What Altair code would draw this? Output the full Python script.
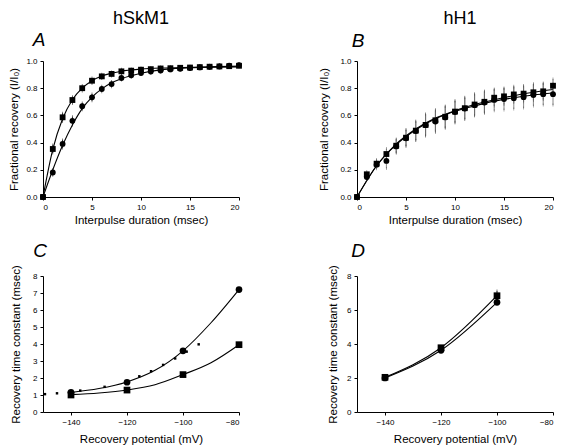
import altair as alt
import pandas as pd

# ---------------- data ----------------
# Panel A (hSkM1): fractional recovery vs interpulse duration
A_x = list(range(21))
A_sq = [0, 0.353, 0.586, 0.713, 0.80, 0.855, 0.887, 0.905, 0.924, 0.929, 0.936,
        0.94, 0.945, 0.947, 0.95, 0.952, 0.955, 0.958, 0.96, 0.962, 0.965]
A_ci = [0, 0.18, 0.39, 0.56, 0.667, 0.733, 0.794, 0.83, 0.875, 0.895, 0.912,
        0.922, 0.93, 0.938, 0.943, 0.948, 0.953, 0.957, 0.96, 0.965, 0.97]
A_sq_err = [0, 0.03, 0.03, 0.025, 0.02, 0.02, 0.015, 0.015, 0.015, 0.012, 0.012,
            0.01, 0.01, 0.01, 0.01, 0.01, 0.01, 0.01, 0.01, 0.01, 0.01]
A_ci_err = [0, 0.02, 0.03, 0.03, 0.025, 0.025, 0.02, 0.02, 0.015, 0.015, 0.012,
            0.012, 0.01, 0.01, 0.01, 0.01, 0.01, 0.01, 0.01, 0.01, 0.01]
A_fit_x = [0, 1, 2, 3, 4, 5, 6, 7, 8, 10, 12, 15, 20]
A_fit_sq = [0, 0.35, 0.575, 0.715, 0.80, 0.855, 0.89, 0.91, 0.925, 0.94, 0.948, 0.953, 0.957]
A_fit_ci = [0, 0.2, 0.38, 0.53, 0.65, 0.735, 0.795, 0.84, 0.87, 0.91, 0.935, 0.95, 0.962]

# Panel B (hH1)
B_x = list(range(21))
B_sq = [0, 0.167, 0.245, 0.316, 0.377, 0.436, 0.488, 0.53, 0.564, 0.59, 0.628,
        0.653, 0.68, 0.70, 0.73, 0.74, 0.754, 0.76, 0.77, 0.777, 0.818]
B_ci = [0, 0.147, 0.238, 0.265, 0.372, 0.432, 0.485, 0.528, 0.555, 0.585, 0.625,
        0.65, 0.675, 0.695, 0.714, 0.72, 0.727, 0.734, 0.75, 0.756, 0.756]
B_sq_err = [0, 0.02, 0.03, 0.04, 0.05, 0.06, 0.07, 0.08, 0.08, 0.08, 0.08,
            0.08, 0.08, 0.08, 0.06, 0.06, 0.06, 0.06, 0.06, 0.06, 0.05]
B_ci_err = [0, 0.02, 0.03, 0.055, 0.05, 0.06, 0.07, 0.08, 0.08, 0.08, 0.08,
            0.08, 0.08, 0.08, 0.08, 0.08, 0.08, 0.08, 0.08, 0.08, 0.08]
B_fit_x = [0, 2, 4, 6, 8, 10, 12, 14, 16, 18, 20]
B_fit_sq = [0, 0.23, 0.39, 0.50, 0.58, 0.635, 0.68, 0.715, 0.745, 0.77, 0.79]
B_fit_ci = [0, 0.23, 0.385, 0.495, 0.575, 0.63, 0.67, 0.705, 0.73, 0.75, 0.765]

# Panel C (hSkM1): recovery time constant vs potential
C_v = [-140, -120, -100, -80]
C_ci = [1.15, 1.75, 3.6, 7.2]
C_sq = [1.0, 1.29, 2.2, 3.96]
C_dot_v = [-149.3, -145, -140.7, -136.7, -128, -115.6, -111.4, -107.1, -102.8, -98.7, -94.4]
C_dot = [1.05, 1.1, 1.18, 1.26, 1.48, 2.1, 2.4, 2.77, 3.15, 3.55, 3.98]
C_fit_v = [-140, -130, -120, -110, -100, -90, -80]
C_fit_ci = [1.15, 1.38, 1.77, 2.45, 3.6, 5.25, 7.2]
C_fit_sq = [1.02, 1.12, 1.29, 1.6, 2.2, 2.9, 3.96]

# Panel D (hH1)
D_v = [-140, -120, -100]
D_ci = [2.0, 3.63, 6.45]
D_sq = [2.04, 3.78, 6.84]
D_sq_err = [0.05, 0.08, 0.28]

# ---------------- helpers ----------------
FONT = "Liberation Sans"
W, H = 196, 136
SHAPE = alt.Scale(domain=["sq", "ci"], range=["square", "circle"])


def pts_df(x, sq, ci, sq_err=None, ci_err=None):
    rows = []
    for i, xv in enumerate(x):
        rows.append({"x": xv, "y": sq[i], "s": "sq",
                     "lo": sq[i] - (sq_err[i] if sq_err else 0),
                     "hi": sq[i] + (sq_err[i] if sq_err else 0)})
    for i, xv in enumerate(x):
        rows.append({"x": xv, "y": ci[i], "s": "ci",
                     "lo": ci[i] - (ci_err[i] if ci_err else 0),
                     "hi": ci[i] + (ci_err[i] if ci_err else 0)})
    return pd.DataFrame(rows)


def fit_df(x, sq, ci):
    return pd.DataFrame({"x": list(x) + list(x), "y": list(sq) + list(ci),
                         "s": ["sq"] * len(x) + ["ci"] * len(x)})


def label(text, dx, dy, size, italic=False):
    return alt.Chart(pd.DataFrame({"t": [text]})).mark_text(
        font=FONT, fontSize=size, fontStyle="italic" if italic else "normal",
        align="center", baseline="alphabetic", color="black"
    ).encode(x=alt.value(dx), y=alt.value(dy), text="t:N")


def panel(pts, fit, xs, ys, xax, yax, labels, msize=38, err=True, err_color="black"):
    bx = alt.X("x:Q", scale=xs, axis=xax)
    layers = []
    layers.append(alt.Chart(fit).mark_line(color="black", strokeWidth=1.1,
                                           interpolate="monotone").encode(
        x=bx, y=alt.Y("y:Q", scale=ys, axis=yax), detail="s:N"))
    if err:
        e = pts[pts["hi"] > pts["lo"]]
        layers.append(alt.Chart(e).mark_rule(color=err_color, strokeWidth=0.7).encode(
            x=bx, y=alt.Y("lo:Q", scale=ys, axis=yax), y2="hi:Q"))
        layers.append(alt.Chart(e).mark_tick(color=err_color, thickness=0.7, size=3).encode(
            x=bx, y=alt.Y("lo:Q", scale=ys, axis=yax)))
        layers.append(alt.Chart(e).mark_tick(color=err_color, thickness=0.7, size=3).encode(
            x=bx, y=alt.Y("hi:Q", scale=ys, axis=yax)))
    layers.append(alt.Chart(pts).mark_point(filled=True, color="black", opacity=1,
                                            size=msize).encode(
        x=bx, y=alt.Y("y:Q", scale=ys, axis=yax),
        shape=alt.Shape("s:N", scale=SHAPE, legend=None)))
    layers += labels
    return alt.layer(*layers).properties(width=W, height=H)


def ax(title, values, fmt, pad):
    return alt.Axis(title=title, values=values, format=fmt, titlePadding=pad,
                    labelFontSize=8, titleFontSize=11.5, tickSize=3,
                    labelPadding=3, grid=False, labelOverlap=False)


# ---------------- panels ----------------
x_ms = alt.Scale(domain=[0, 20], nice=False)
y_fr = alt.Scale(domain=[0, 1], nice=False)
x_mv = alt.Scale(domain=[-150, -80], nice=False)
y_tc = alt.Scale(domain=[0, 8], nice=False)

xa_ms = ax("Interpulse duration (msec)", [0, 5, 10, 15, 20], "d", 3)
ya_fr = ax("Fractional recovery (I/I₀)", [0, 0.2, 0.4, 0.6, 0.8, 1.0], ".1f", 6)
ya_fr_b = ax("Fractional recovery (I/I₀)", [0, 0.2, 0.4, 0.6, 0.8, 1.0], ".1f", 10)
xa_mv = ax("Recovery potential (mV)", [-140, -120, -100, -80], "d", 7)
ya_tc_c = ax("Recovery time constant (msec)", list(range(9)), "d", 11)
ya_tc_d = ax("Recovery time constant (msec)", [0, 2, 4, 6, 8], "d", 8)

pA = panel(pts_df(A_x, A_sq, A_ci, A_sq_err, A_ci_err), fit_df(A_fit_x, A_fit_sq, A_fit_ci),
           x_ms, y_fr, xa_ms, ya_fr,
           [label("hSkM1", 98, -37, 18), label("A", -4, -15, 19, True)], msize=34)
pB = panel(pts_df(B_x, B_sq, B_ci, B_sq_err, B_ci_err), fit_df(B_fit_x, B_fit_sq, B_fit_ci),
           x_ms, y_fr, xa_ms, ya_fr_b,
           [label("hH1", 103, -37, 18), label("B", 1, -14, 19, True)], msize=34,
           err_color="#555555")

ptsC = pts_df(C_v, C_sq, C_ci)
dotsC = alt.Chart(pd.DataFrame({"x": C_dot_v, "y": C_dot})).mark_square(
    color="black", opacity=1, size=6).encode(
    x=alt.X("x:Q", scale=x_mv, axis=xa_mv), y=alt.Y("y:Q", scale=y_tc, axis=ya_tc_c))
pC = panel(ptsC, fit_df(C_fit_v, C_fit_sq, C_fit_ci), x_mv, y_tc, xa_mv, ya_tc_c,
           [dotsC, label("C", -3, -19, 19, True)], msize=45, err=False)

pD = panel(pts_df(D_v, D_sq, D_ci, D_sq_err, [0, 0, 0]), fit_df(D_v, D_sq, D_ci),
           x_mv, y_tc, xa_mv, ya_tc_d,
           [label("D", 1, -19, 19, True)], msize=45)

chart = alt.concat(pA, pB, pC, pD, columns=2, spacing={"column": 118, "row": 79},
                   bounds="flush").properties(
    padding={"left": 0, "top": 2, "right": 0, "bottom": 0}
).configure_view(stroke=None).configure_axis(
    domainColor="black", tickColor="black", labelColor="black", titleColor="black",
    labelFont=FONT, titleFont=FONT, titleFontWeight="normal", domainWidth=1,
    labelOverlap=False
)

chart.save("out.html", embed_options={"renderer": "svg", "actions": False})
